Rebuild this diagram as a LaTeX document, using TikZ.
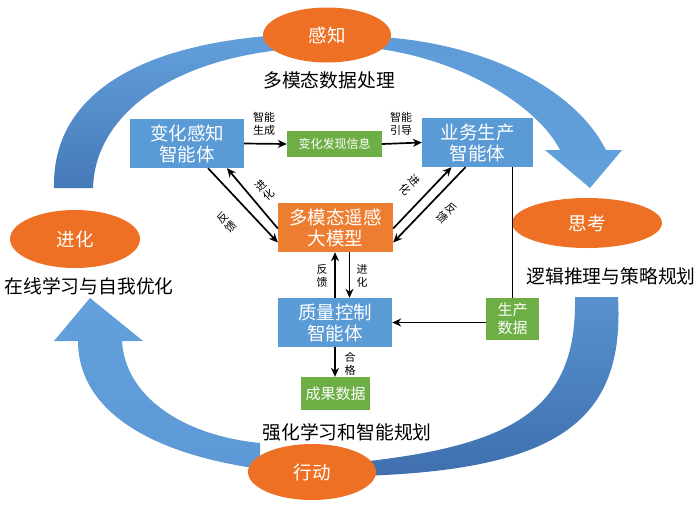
\documentclass[tikz,border=0pt]{standalone}
\usepackage{fontspec}
\newfontfamily\cjk{Noto Sans CJK SC}
\usetikzlibrary{arrows.meta,shapes.geometric}
\definecolor{boxblue}{HTML}{5B9BD5}
\definecolor{boxorange}{HTML}{ED7D31}
\definecolor{ellorange}{HTML}{EE7024}
\definecolor{boxgreen}{HTML}{6DAE45}
\definecolor{bandlight}{HTML}{62A0DC}
\definecolor{banddark}{HTML}{3F6FAE}
\tikzset{
  x=1pt,y=-1pt,
  bluebox/.style={fill=boxblue, text=white, align=center, inner sep=0pt,
    font=\cjk\fontsize{18.5}{21}\selectfont},
  orangebox/.style={fill=boxorange, text=white, align=center, inner sep=0pt,
    font=\cjk\fontsize{18.5}{21}\selectfont},
  greenbox/.style={fill=boxgreen, text=white, align=center, inner sep=0pt},
  stage/.style={ellipse, fill=ellorange, text=white, inner sep=0pt,
    font=\cjk\fontsize{18.5}{21}\selectfont},
  caption/.style={text=black, font=\cjk\fontsize{18.8}{21}\selectfont, inner sep=0pt},
  small/.style={text=black, align=center, inner sep=0pt,
    font=\cjk\fontsize{11}{12.5}\selectfont},
  arr/.style={draw=black, line width=1.7pt, -{Stealth[length=9pt,width=8pt]}},
  plainline/.style={draw=black, line width=1.7pt},
}
\begin{document}
\begin{tikzpicture}
\useasboundingbox (0,0) rectangle (700,504);
\fill[white] (0,0) rectangle (700,504);

% ---- big circular arrows ----
% top-left band
\shade[top color=bandlight, bottom color=banddark!80!bandlight]
  (54,188) .. controls (52,100) and (130,45) .. (280,35)
  -- (280,50) .. controls (170,62) and (95,115) .. (93,188) -- cycle;
% top-right band with arrowhead
\shade[top color=bandlight!90!banddark, bottom color=bandlight]
  (380,37) .. controls (470,42) and (570,80) .. (606,150)
  -- (622,150) -- (590,188) -- (545,150) -- (560,150)
  .. controls (540,110) and (470,62) .. (380,49) -- cycle;
% bottom-right band
\shade[top color=bandlight!70!banddark, bottom color=banddark]
  (575,297) -- (618,297) .. controls (625,420) and (560,470) .. (360,476)
  -- (360,462) .. controls (520,445) and (577,405) .. (575,297) -- cycle;
% bottom-left band with arrowhead
\shade[top color=bandlight, bottom color=bandlight!85!banddark]
  (260,469) .. controls (140,452) and (78,405) .. (78,341)
  -- (54,341) -- (90,298) -- (143,341) -- (122,341)
  .. controls (125,395) and (180,435) .. (260,443) -- cycle;

% ---- stage ellipses ----
\node[stage, minimum width=128pt, minimum height=55pt] (gz) at (327,35) {感知};
\node[stage, minimum width=150pt, minimum height=50pt] (sk) at (587,223) {思考};
\node[stage, minimum width=130pt, minimum height=58pt] (jh) at (75,239) {进化};
\node[stage, minimum width=128pt, minimum height=56pt] (xd) at (312,472) {行动};

% ---- captions ----
\node[caption] (c1) at (329,80) {多模态数据处理};
\node[caption] (c2) at (611,276) {逻辑推理与策略规划};
\node[caption] (c3) at (89,286) {在线学习与自我优化};
\node[caption] (c4) at (347,432) {强化学习和智能规划};

% ---- boxes ----
\node[bluebox, minimum width=114pt, minimum height=49pt] (bh) at (187,143.5) {变化感知\\智能体};
\node[greenbox, minimum width=95pt, minimum height=26pt, font=\cjk\fontsize{12}{14}\selectfont] (fx) at (334.5,144) {变化发现信息};
\node[bluebox, minimum width=111pt, minimum height=49pt] (bw) at (477.5,142.5) {业务生产\\智能体};
\node[orangebox, minimum width=115pt, minimum height=49pt] (mm) at (335.5,227.5) {多模态遥感\\大模型};
\node[bluebox, minimum width=114pt, minimum height=49pt] (qc) at (335,322.5) {质量控制\\智能体};
\node[greenbox, minimum width=53pt, minimum height=42pt, font=\cjk\fontsize{15}{18}\selectfont] (pd) at (512.5,319) {生产\\数据};
\node[greenbox, minimum width=69pt, minimum height=33pt, font=\cjk\fontsize{15}{18}\selectfont] (cg) at (335.5,393.5) {成果数据};

% ---- connectors ----
\draw[arr] (bh.east) -- (fx.west);
\draw[arr] (fx.east) -- (bw.west);
\node[small] (l1) at (264,124) {智能\\生成};
\node[small] (l2) at (401,124) {智能\\引导};

% left diagonal pair
\draw[arr] ([xshift=21pt]bh.south) -- ([yshift=-15pt]mm.west);
\draw[arr] ([yshift=-1pt]mm.west) -- ([xshift=40pt]bh.south);
\node[small, rotate=42] (l3) at (265,190) {进\\化};
\node[small, rotate=42] (l4) at (227,222) {反\\馈};

% right diagonal pair
\draw[arr] ([yshift=-1pt]mm.east) -- ([xshift=-26pt]bw.south);
\draw[arr] ([xshift=-12pt]bw.south) -- ([yshift=-15pt]mm.east);
\node[small, rotate=-45] (l5) at (410,185) {进\\化};
\node[small, rotate=-45] (l6) at (447,213) {反\\馈};

% vertical pair
\draw[arr] (qc.north) -- (qc.north |- mm.south);
\draw[arr] ([xshift=14pt]mm.south) -- ([xshift=14pt]mm.south |- qc.north);
\node[small] (l7) at (322,276) {反\\馈};
\node[small] (l8) at (362,276) {进\\化};

% production data
\draw[plainline] (pd.north) -- (pd.north |- bw.south);
\draw[arr] (pd.west |- qc.east) -- (qc.east);

% quality -> results
\draw[arr] (qc.south) -- (qc.south |- cg.north);
\node[small] (l9) at (350,364) {合\\格};
\end{tikzpicture}
\end{document}
